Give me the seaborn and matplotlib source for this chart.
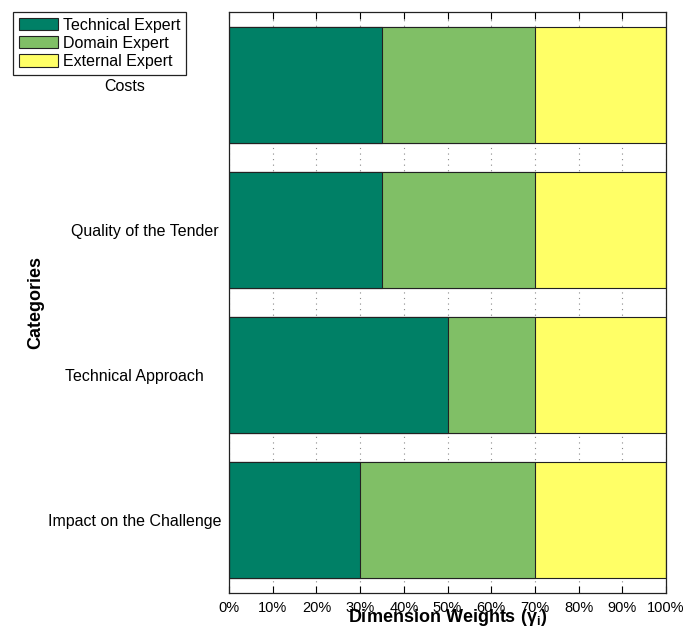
import matplotlib
matplotlib.use("Agg")
import matplotlib.pyplot as plt
import matplotlib.transforms as mtransforms
import seaborn as sns
import numpy as np
from matplotlib.ticker import FixedLocator, FuncFormatter
from matplotlib.patches import Patch

categories = ["Costs", "Quality of the Tender", "Technical Approach", "Impact on the Challenge"]
series_names = ["Technical Expert", "Domain Expert", "External Expert"]
technical = [35, 35, 50, 30]
domain = [35, 35, 20, 40]
external = [30, 30, 30, 30]
x_ticks = [0, 10, 20, 30, 40, 50, 60, 70, 80, 90, 100]
colors = ["#008066", "#80BF66", "#FFFF66"]

sns.set_style("white")
plt.rcParams["font.family"] = ["Liberation Sans", "DejaVu Sans"]
plt.rcParams["mathtext.fontset"] = "custom"
plt.rcParams["mathtext.rm"] = "Liberation Sans"
plt.rcParams["mathtext.bf"] = "Liberation Sans:bold"
plt.rcParams["mathtext.it"] = "Liberation Sans:italic"
plt.rcParams["text.color"] = "black"
plt.rcParams["axes.labelcolor"] = "black"
plt.rcParams["xtick.color"] = "black"
plt.rcParams["ytick.color"] = "black"

fig = plt.figure(figsize=(6.89, 6.36), dpi=100)
ax = fig.add_axes([229/689, 1-593/636, (666-229)/689, (593-12)/636])

series = [np.array(technical), np.array(domain), np.array(external)]
cum = np.cumsum(series, axis=0)
for i in range(len(series) - 1, -1, -1):
    sns.barplot(x=cum[i], y=categories, color=colors[i], orient="h", width=0.8,
                edgecolor="#222222", linewidth=0.8, ax=ax, saturation=1, zorder=2)

ax.set_xlim(0, 100)
ax.set_ylim(3.5, -0.5)
ax.xaxis.set_major_locator(FixedLocator(x_ticks))
ax.xaxis.set_major_formatter(FuncFormatter(lambda v, p: f"{int(v)}%"))
ax.xaxis.grid(True, linestyle=(0, (1, 4)), color="#888888", linewidth=0.8, zorder=0)
ax.set_axisbelow(True)
ax.tick_params(axis="x", direction="in", top=True, bottom=True, length=5, width=0.8,
               labelsize=10.5, pad=6, colors="black")
ax.tick_params(axis="y", length=0, labelsize=11.5, pad=68, colors="black")
label_shift_px = [-10, 10, 0, 0]
for lbl, dx in zip(ax.get_yticklabels(), label_shift_px):
    lbl.set_ha("center")
    lbl.set_transform(lbl.get_transform() +
                      mtransforms.ScaledTranslation(dx / 100, 0, fig.dpi_scale_trans))
for s in ax.spines.values():
    s.set_color("#222222")
    s.set_linewidth(0.9)

ax.set_xlabel(r"Dimension Weights (γ$_{\mathbf{i}}$)", fontsize=13, fontweight="bold")
ax.xaxis.set_label_coords(0.5, -0.024)
ax.set_ylabel("Categories", fontsize=13, fontweight="bold")
ax.yaxis.set_label_coords(-0.423, 0.5)

handles = [Patch(facecolor=c, edgecolor="#222222", linewidth=0.8) for c in colors]
leg = fig.legend(handles, series_names, loc="upper left",
                 bbox_to_anchor=(13/689, 1-12/636), borderaxespad=0, fontsize=11.5,
                 handlelength=2.45, handleheight=0.8, handletextpad=0.3,
                 labelspacing=0.2, borderpad=0.35, fancybox=False, framealpha=1,
                 edgecolor="#222222")
leg.get_frame().set_linewidth(0.9)

fig.savefig("out.png", dpi=100)
